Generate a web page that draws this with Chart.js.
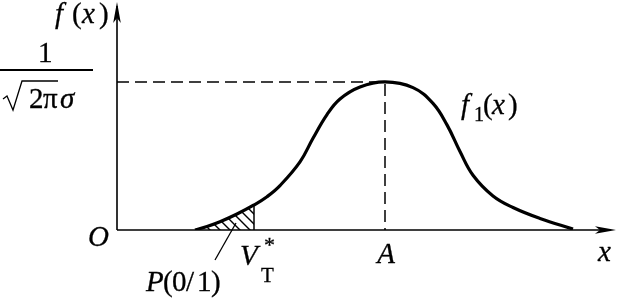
<!DOCTYPE html>
<html>
<head>
<meta charset="utf-8">
<script src="https://cdn.jsdelivr.net/npm/chart.js@4"></script>
<style>
  html, body { margin: 0; padding: 0; background: #fff; }
  canvas { display: block; }
</style>
</head>
<body>
<canvas id="c" width="617" height="300"></canvas>
<script>
// ---- data ----
const curveX = [78, 90, 103, 120, 137, 150, 163, 183, 196, 210, 223, 243, 268, 296, 316, 330, 343, 356, 376, 396, 423, 456];
const curveY = [0, 0.024, 0.056, 0.108, 0.169, 0.225, 0.30, 0.46, 0.62, 0.78, 0.885, 0.966, 1.0, 0.962, 0.855, 0.71, 0.53, 0.37, 0.23, 0.152, 0.078, 0.006];
const peakX = 268;        // A
const peakY = 1.0;        // 1/(sqrt(2π)σ)
const thresholdX = 137;   // V_T*
const xMax = 495;
const yMax = 1.52;

const curvePts = curveX.map((x, i) => ({ x: x, y: curveY[i] }));
const hatchPts = curvePts.filter(p => p.x <= thresholdX);
const thresholdY = curveY[curveX.indexOf(thresholdX)];

// hatch pattern
function makeHatch() {
  const s = 10;
  const pc = document.createElement('canvas');
  pc.width = s; pc.height = s;
  const g = pc.getContext('2d');
  g.strokeStyle = '#000';
  g.lineWidth = 1.4;
  g.beginPath();
  g.moveTo(-1, -1); g.lineTo(s + 1, s + 1);
  g.moveTo(-1, s - 1); g.lineTo(1, s + 1);
  g.moveTo(s - 1, -1); g.lineTo(s + 1, 1);
  g.stroke();
  return g.createPattern(pc, 'repeat');
}

const SERIF = '"Liberation Serif", "Times New Roman", serif';
function txt(ctx, t, x, y, size, italic) {
  ctx.font = (italic ? 'italic ' : '') + size + 'px ' + SERIF;
  ctx.fillText(t, x, y);
  ctx.lineWidth = 0.3;
  ctx.strokeText(t, x, y);
}

const decor = {
  id: 'decor',
  afterDraw(chart) {
    const ctx = chart.ctx;
    const xs = chart.scales.x, ys = chart.scales.y;
    const x0 = xs.getPixelForValue(0), y0 = ys.getPixelForValue(0);
    ctx.save();
    ctx.fillStyle = '#000';
    ctx.strokeStyle = '#000';
    ctx.textBaseline = 'alphabetic';
    ctx.textAlign = 'left';

    // axes
    ctx.lineWidth = 1.6;
    ctx.beginPath();
    ctx.moveTo(x0, y0); ctx.lineTo(x0, 6);
    ctx.moveTo(x0, y0); ctx.lineTo(611, y0);
    ctx.stroke();
    // y arrow
    ctx.beginPath();
    ctx.moveTo(x0, 2);
    ctx.lineTo(x0 + 3.8, 23);
    ctx.lineTo(x0, 18);
    ctx.lineTo(x0 - 3.8, 23);
    ctx.closePath(); ctx.fill();
    // x arrow
    ctx.beginPath();
    ctx.moveTo(616, y0);
    ctx.lineTo(595, y0 - 3.8);
    ctx.lineTo(600, y0);
    ctx.lineTo(595, y0 + 3.8);
    ctx.closePath(); ctx.fill();

    // f(x)
    txt(ctx, 'f', 55, 23, 29, true);
    txt(ctx, '(', 72, 23, 29, false);
    txt(ctx, 'x', 82, 23, 29, true);
    txt(ctx, ')', 99, 23, 29, false);

    // 1 / sqrt(2π)σ
    txt(ctx, '1', 38, 62, 29, false);
    ctx.lineWidth = 2;
    ctx.beginPath(); ctx.moveTo(0, 70); ctx.lineTo(93, 70); ctx.stroke();
    ctx.lineWidth = 1.3;
    ctx.beginPath();
    ctx.moveTo(3, 99); ctx.lineTo(7, 96); ctx.lineTo(13, 110); ctx.lineTo(22, 81); ctx.lineTo(58, 81);
    ctx.stroke();
    txt(ctx, '2', 29, 108, 29, false);
    txt(ctx, 'π', 43, 108, 29, false);
    txt(ctx, 'σ', 60, 108, 29, true);

    // O
    txt(ctx, 'O', 88, 246, 29, true);
    // x (axis)
    txt(ctx, 'x', 598, 261, 29, true);
    // A
    ctx.textAlign = 'center';
    txt(ctx, 'A', xs.getPixelForValue(peakX) + 1, 263, 29, true);
    ctx.textAlign = 'left';
    // V_T*
    txt(ctx, 'V', 240, 265, 29, true);
    txt(ctx, 'T', 261, 282, 21, false);
    txt(ctx, '*', 264, 252, 22, false);
    // P(0/1)
    txt(ctx, 'P', 146, 291, 29, true);
    txt(ctx, '(', 163, 291, 29, false);
    txt(ctx, '0', 172, 291, 29, false);
    txt(ctx, '/', 186, 291, 29, false);
    txt(ctx, '1', 197, 291, 29, false);
    txt(ctx, ')', 211, 291, 29, false);
    // f1(x)
    txt(ctx, 'f', 461, 114, 29, true);
    txt(ctx, '1', 474, 121, 20, false);
    txt(ctx, '(', 483, 114, 29, false);
    txt(ctx, 'x', 492, 114, 29, true);
    txt(ctx, ')', 508, 114, 29, false);

    ctx.restore();
  }
};

new Chart(document.getElementById('c'), {
  type: 'line',
  data: {
    datasets: [
      {
        data: hatchPts,
        borderWidth: 0,
        borderColor: 'rgba(0,0,0,0)',
        backgroundColor: makeHatch(),
        fill: 'origin',
        pointRadius: 0,
        tension: 0.4,
        order: 5
      },
      {
        data: [{ x: thresholdX, y: 0 }, { x: thresholdX, y: thresholdY }],
        borderColor: '#000',
        borderWidth: 1.5,
        pointRadius: 0,
        fill: false,
        order: 4
      },
      {
        data: [{ x: 0, y: peakY }, { x: peakX, y: peakY }, { x: peakX, y: 0 }],
        borderColor: '#000',
        borderWidth: 1.5,
        borderDash: [12, 6],
        pointRadius: 0,
        fill: false,
        order: 3
      },
      {
        data: [{ x: 98, y: -0.203 }, { x: 119, y: 0.047 }],
        borderColor: '#000',
        borderWidth: 1.3,
        pointRadius: 0,
        fill: false,
        clip: false,
        order: 2
      },
      {
        data: curvePts,
        borderColor: '#000',
        borderWidth: 3.2,
        pointRadius: 0,
        fill: false,
        tension: 0.4,
        order: 1
      }
    ]
  },
  options: {
    responsive: false,
    animation: false,
    devicePixelRatio: 1,
    layout: { padding: { left: 117, right: 5, top: 5, bottom: 70 } },
    plugins: { legend: { display: false }, tooltip: { enabled: false } },
    scales: {
      x: { type: 'linear', min: 0, max: xMax, display: false },
      y: { type: 'linear', min: 0, max: yMax, display: false }
    }
  },
  plugins: [decor]
});
</script>
</body>
</html>
